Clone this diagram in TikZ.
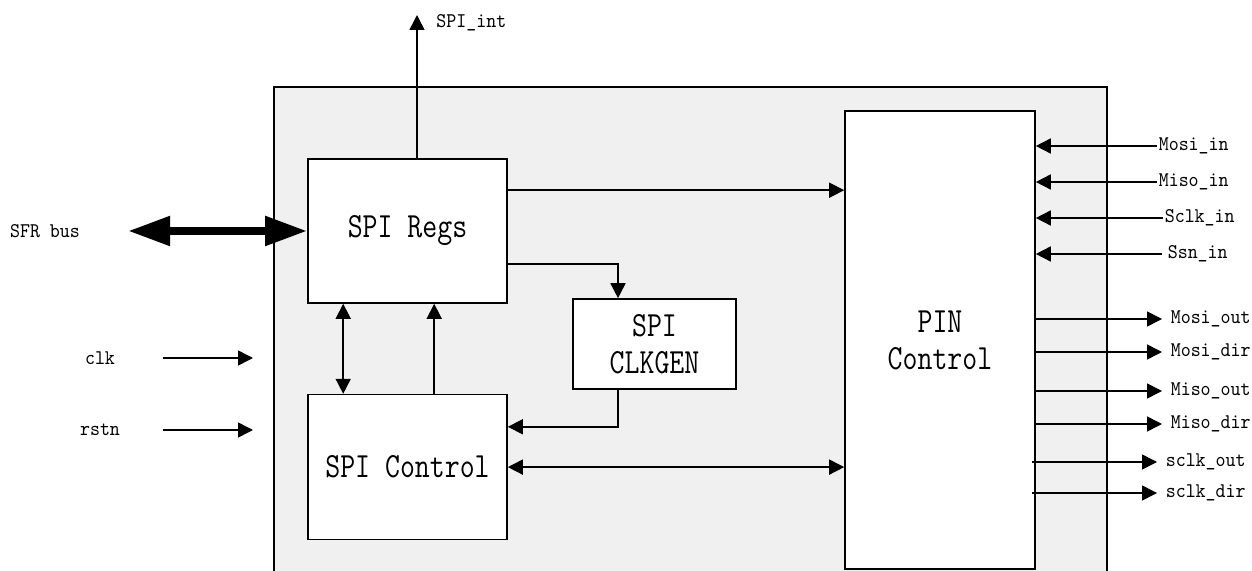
\documentclass[tikz,border=0pt]{standalone}
\usepackage{xcolor}
\usepackage{tikz}
\usetikzlibrary{arrows.meta, positioning}

\definecolor{chipfill}{HTML}{F0F0F0}
\newcommand{\tallbig}[1]{\scalebox{1}[1.22]{#1}}
\newcommand{\tallsmall}[1]{\scalebox{1}[1.1]{#1}}

\begin{document}
\begin{tikzpicture}[
        x=0.5pt, y=-0.5pt,
        line width=0.8pt,
        >={Triangle[length=7.5pt, width=7.5pt]},
        every node/.style={font=\ttfamily\fontsize{9.5}{11}\selectfont},
        block/.style={draw, fill=white, align=center, font=\ttfamily\fontsize{14.5}{18.5}\selectfont},
        sig/.style={inner sep=0.5pt, anchor=west},
        outsig/.style={inner xsep=4pt, anchor=west},
        busarrow/.style={line width=4pt, {Triangle[length=21pt, width=14pt]}-{Triangle[length=21pt, width=14pt]}}
    ]
    \useasboundingbox (0,0) rectangle (1252,571);

    % Chip outline
    \fill[chipfill] (274,87) rectangle (1107,571);
    \draw (274,571) |- (1107,87) -- (1107,571);

    % Nodes
    \node (regs) [block, minimum width=99.5pt, minimum height=72pt] at (407.5,231) {\tallbig{SPI Regs}};
    \node (ctrl) [block, minimum width=99.5pt, minimum height=72.5pt, below=45pt of regs] {\tallbig{SPI Control}};
    \node (clkgen) [block, minimum width=81.5pt, minimum height=45pt] at (654.5,344) {\tallbig{SPI}\\\tallbig{CLKGEN}};
    \node (pinctrl) [block, minimum width=95pt, minimum height=229pt] at (940,340) {\tallbig{PIN}\\\tallbig{Control}};

    \node (sfr) at (45,231) {\tallsmall{SFR bus}};
    \node (clk) at (100,358) {\tallsmall{clk}};
    \node (rstn) at (100,430) {\tallsmall{rstn}};
    \node (intlbl) [anchor=west] at (429,23) {\tallsmall{SPI\_int}};

    \node (mosiin) [sig] at (1157,146) {\tallsmall{Mosi\_in}};
    \node (misoin) [sig] at (1157,182) {\tallsmall{Miso\_in}};
    \node (sclkin) [sig] at (1163,218) {\tallsmall{Sclk\_in}};
    \node (ssnin) [sig, inner xsep=2.5pt] at (1162,254) {\tallsmall{Ssn\_in}};

    \node (mosiout) [outsig] at (1162,319) {\tallsmall{Mosi\_out}};
    \node (mosidir) [outsig] at (1162,352) {\tallsmall{Mosi\_dir}};
    \node (misoout) [outsig] at (1162,391) {\tallsmall{Miso\_out}};
    \node (misodir) [outsig] at (1162,424) {\tallsmall{Miso\_dir}};
    \node (sclkout) [outsig] at (1157,462) {\tallsmall{sclk\_out}};
    \node (sclkdir) [outsig] at (1157,493) {\tallsmall{sclk\_dir}};

    \coordinate (intout) at (417,15);
    \coordinate (busend) at (128,231);
    \coordinate (clka) at (163,358);
    \coordinate (clkb) at (253,358);
    \coordinate (rstna) at (163,430);
    \coordinate (rstnb) at (253,430);

    % Edges
    \draw[->] (regs.north -| intout) -- (intout);
    \draw[busarrow] (busend) -- (regs.west);
    \draw[->] (clka) -- (clkb);
    \draw[->] (rstna) -- (rstnb);

    \draw[->] ([yshift=-16pt]regs.north east) -- ([yshift=-16pt]regs.north east -| pinctrl.west);
    \draw[->] ([yshift=20pt]regs.south east) -| ([xshift=-18.25pt]clkgen.north);
    \draw[->] ([xshift=-18.25pt]clkgen.south) |- ([yshift=-16.5pt]ctrl.north east);
    \draw[<->] ([xshift=18pt]regs.south west) -- ([xshift=18pt]ctrl.north west);
    \draw[->] ([xshift=63.5pt]ctrl.north west) -- ([xshift=63.5pt]regs.south west);
    \draw[<->] (ctrl.east) -- (ctrl.east -| pinctrl.west);

    \draw[->] (mosiin.west) -- (mosiin.west -| pinctrl.east);
    \draw[->] (misoin.west) -- (misoin.west -| pinctrl.east);
    \draw[->] (sclkin.west) -- (sclkin.west -| pinctrl.east);
    \draw[->] (ssnin.west) -- (ssnin.west -| pinctrl.east);

    \draw[->] (pinctrl.east |- mosiout) -- (mosiout.west);
    \draw[->] (pinctrl.east |- mosidir) -- (mosidir.west);
    \draw[->] (pinctrl.east |- misoout) -- (misoout.west);
    \draw[->] (pinctrl.east |- misodir) -- (misodir.west);
    \draw[->] ([xshift=-2pt]pinctrl.east |- sclkout) -- (sclkout.west);
    \draw[->] ([xshift=-2pt]pinctrl.east |- sclkdir) -- (sclkdir.west);
\end{tikzpicture}
\end{document}
